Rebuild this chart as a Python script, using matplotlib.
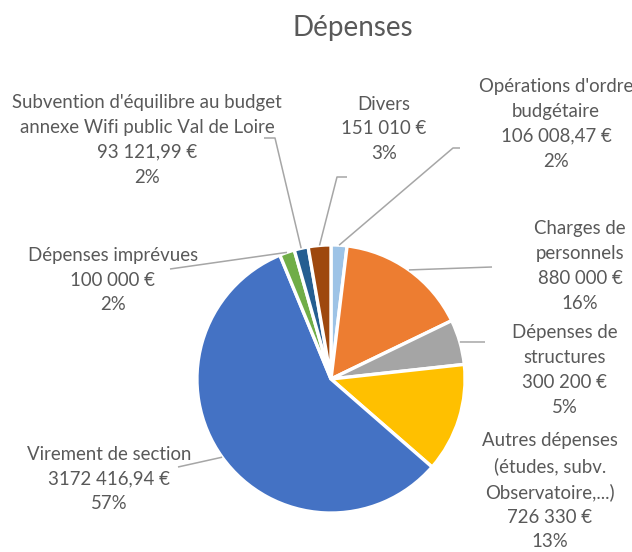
import matplotlib
matplotlib.use("Agg")
import matplotlib.pyplot as plt
import numpy as np

# ---- data ----
categories = [
    "Opérations d'ordre\nbudgétaire",
    "Charges de\npersonnels",
    "Dépenses de\nstructures",
    "Autres dépenses\n(études, subv.\nObservatoire,...)",
    "Virement de section",
    "Dépenses imprévues",
    "Subvention d'équilibre au budget\nannexe Wifi public Val de Loire",
    "Divers",
]
values = [106008.47, 880000, 300200, 726330, 3172416.94, 100000, 93121.99, 151010]
amount_labels = ["106 008,47 €", "880 000 €", "300 200 €", "726 330 €",
                 "3172 416,94 €", "100 000 €", "93 121,99 €", "151 010 €"]
colors = ['#9DC3E6', '#ED7D31', '#A5A5A5', '#FFC000',
          '#4472C4', '#70AD47', '#255E91', '#9E480E']
title = "Dépenses"

# ---- layout (pixel coordinates, y downward) ----
W, H = 632, 552
center_px = (331, 379)
radius_px = 134
label_pos = [(556, 124), (580, 266), (565, 370), (550, 491),
             (109, 479), (113, 280), (147, 140), (384, 129)]
# leader line extra points after the wedge anchor (pixel)
leaders = [
    [(453, 148), (460, 148)],
    [(492, 267)],
    [(485, 342)],
    [],
    [(178, 467)],
    [(170, 269)],
    [(275, 138), (264, 138)],
    [(337, 177), (347, 177)],
]

txt_color = '#595959'
line_color = '#A6A6A6'
font = ['Lato', 'DejaVu Sans']

def Y(y):
    return H - y

fig = plt.figure(figsize=(W / 100, H / 100), dpi=100)
ax = fig.add_axes([0, 0, 1, 1])

explode = [0.06] * len(values)
wedges, _ = ax.pie(values, colors=colors, startangle=90, counterclock=False,
                   center=(center_px[0], Y(center_px[1])), radius=radius_px,
                   explode=explode,
                   wedgeprops=dict(edgecolor='white', linewidth=2.4))
ax.set_xlim(0, W)
ax.set_ylim(0, H)
ax.set_aspect('equal')
ax.axis('off')

total = sum(values)
for i, w in enumerate(wedges):
    ang = np.deg2rad((w.theta1 + w.theta2) / 2)
    cx, cy = w.center
    ax_x = cx + w.r * np.cos(ang)
    ax_y = cy + w.r * np.sin(ang)
    if leaders[i]:
        xs = [ax_x] + [p[0] for p in leaders[i]]
        ys = [ax_y] + [Y(p[1]) for p in leaders[i]]
        ax.plot(xs, ys, color=line_color, lw=1.1, solid_capstyle='butt', zorder=1)
    pct = round(values[i] / total * 100)
    label = f"{categories[i]}\n{amount_labels[i]}\n{pct}%"
    lx, ly = label_pos[i]
    ax.text(lx, Y(ly), label, ha='center', va='center', color=txt_color,
            fontsize=13.4, family=font, linespacing=1.55, multialignment='center')

ax.text(353, Y(28), title, ha='center', va='center', color=txt_color,
        fontsize=20, family=font)

fig.savefig("out.png", dpi=100, facecolor='white')
